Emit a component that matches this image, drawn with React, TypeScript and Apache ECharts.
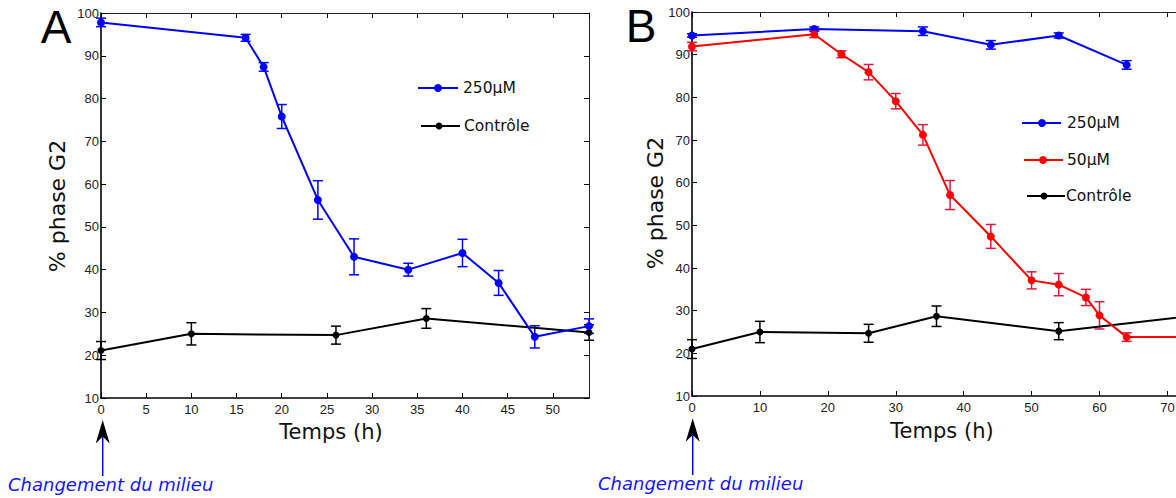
import React, { useEffect, useRef } from "react";
import * as echarts from "echarts";

// ---------- Panel A data ----------
const timeA250 = [0, 16, 18, 20, 24, 28, 34, 40, 44, 48, 54];
const valA250 = [97.8, 94.2, 87.4, 75.8, 56.3, 43.0, 40.0, 43.9, 36.9, 24.3, 26.8];
const errA250 = [1.0, 0.8, 1.0, 2.8, 4.5, 4.2, 1.5, 3.2, 2.9, 2.6, 1.7];

const timeACtrl = [0, 10, 26, 36, 54];
const valACtrl = [21.1, 25.0, 24.7, 28.6, 25.3];
const errACtrl = [2.1, 2.6, 2.1, 2.3, 1.8];

// ---------- Panel B data ----------
const timeB250 = [0, 18, 34, 44, 54, 64];
const valB250 = [94.5, 96.0, 95.5, 92.3, 94.5, 87.6];
const errB250 = [0.4, 0.5, 1.0, 1.0, 0.6, 1.0];

const timeB50 = [0, 18, 22, 26, 30, 34, 38, 44, 50, 54, 58, 60, 64, 72];
const valB50 = [91.9, 94.8, 90.1, 85.9, 79.1, 71.2, 57.1, 47.4, 37.1, 36.1, 33.1, 28.9, 23.8, 23.8];
const errB50 = [1.0, 0.8, 0.8, 1.8, 1.8, 2.4, 3.4, 2.8, 2.0, 2.6, 1.9, 3.2, 1.0, 0.5];

const timeBCtrl = [0, 10, 26, 36, 54, 72];
const valBCtrl = [21.0, 25.0, 24.7, 28.7, 25.2, 28.5];
const errBCtrl = [2.2, 2.5, 2.1, 2.4, 2.0, 2.0];

// ---------- Axis settings ----------
const xMaxA = 54;
const xIntervalA = 5;
const xMaxB = 72;
const xIntervalB = 10;
const yMin = 10;
const yMax = 100;
const yInterval = 10;

const BLUE = "#0000ff";
const RED = "#ff0000";
const RED_ERR = "#e0183c";
const BLACK = "#000000";

const TICK_FONT = "Liberation Sans, Arial, sans-serif";
const LABEL_FONT = "DejaVu Sans, sans-serif";

function pairs(t: number[], v: number[]) {
  return t.map((x, i) => [x, v[i]]);
}

function lineSeries(name: string, xi: number, yi: number, t: number[], v: number[], color: string, size: number) {
  return {
    type: "line",
    name,
    xAxisIndex: xi,
    yAxisIndex: yi,
    data: pairs(t, v),
    symbol: "circle",
    symbolSize: size,
    showAllSymbol: true,
    lineStyle: { color, width: 2 },
    itemStyle: { color },
    z: 4,
    silent: true,
  };
}

function errSeries(name: string, xi: number, yi: number, t: number[], v: number[], e: number[], color: string) {
  return {
    type: "custom",
    name,
    xAxisIndex: xi,
    yAxisIndex: yi,
    data: t.map((x, i) => [x, v[i], e[i]]),
    renderItem: (_params: any, api: any) => {
      const x = api.value(0);
      const y = api.value(1);
      const er = api.value(2);
      const top = api.coord([x, y + er]);
      const bot = api.coord([x, y - er]);
      const w = 5;
      const st = { stroke: color, lineWidth: 1.5 };
      return {
        type: "group",
        children: [
          { type: "line", shape: { x1: top[0], y1: top[1], x2: bot[0], y2: bot[1] }, style: st },
          { type: "line", shape: { x1: top[0] - w, y1: top[1], x2: top[0] + w, y2: top[1] }, style: st },
          { type: "line", shape: { x1: bot[0] - w, y1: bot[1], x2: bot[0] + w, y2: bot[1] }, style: st },
        ],
      };
    },
    z: 3,
    silent: true,
    clip: false,
  };
}

function xAxis(gridIndex: number, max: number, interval: number, position: string, main: boolean) {
  return {
    type: "value",
    gridIndex,
    min: 0,
    max,
    interval,
    position,
    axisLine: { show: true, onZero: false, lineStyle: { color: main ? "#000" : "#222", width: main ? 1.6 : 1 } },
    axisTick: { show: true, inside: true, length: 5, lineStyle: { color: "#000", width: 1 } },
    axisLabel: {
      show: main,
      showMaxLabel: false,
      color: "#222",
      fontFamily: TICK_FONT,
      fontSize: 13,
      margin: 5,
      formatter: (v: number) => (v % interval === 0 ? String(v) : ""),
    },
    splitLine: { show: false },
  };
}

function yAxis(gridIndex: number, position: string, main: boolean) {
  return {
    type: "value",
    gridIndex,
    min: yMin,
    max: yMax,
    interval: yInterval,
    position,
    axisLine: { show: true, onZero: false, lineStyle: { color: main ? "#000" : "#222", width: main ? 1.6 : 1 } },
    axisTick: { show: true, inside: true, length: 5, lineStyle: { color: "#000", width: 1 } },
    axisLabel: {
      show: main,
      color: "#222",
      fontFamily: TICK_FONT,
      fontSize: 13,
      margin: 2,
    },
    splitLine: { show: false },
  };
}

function legendItem(x1: number, x2: number, cx: number, y: number, color: string, text: string, tx: number, r: number) {
  return [
    { type: "line", shape: { x1, y1: y, x2, y2: y }, style: { stroke: color, lineWidth: 2 }, z: 10 },
    { type: "circle", shape: { cx, cy: y, r }, style: { fill: color }, z: 10 },
    {
      type: "text",
      x: tx,
      y,
      style: { text, fill: "#111", font: `15.5px ${LABEL_FONT}`, textAlign: "left", textVerticalAlign: "middle" },
      z: 10,
    },
  ];
}

function arrow(x: number, tip: number, base: number, notch: number, bottom: number) {
  return [
    { type: "line", shape: { x1: x, y1: notch, x2: x, y2: bottom }, style: { stroke: BLUE, lineWidth: 1.5 }, z: 10 },
    {
      type: "polygon",
      shape: { points: [[x, tip], [x + 7, base], [x, notch], [x - 7, base]] },
      style: { fill: "#000" },
      z: 11,
    },
  ];
}

export default function App() {
  const ref = useRef<HTMLDivElement>(null);

  useEffect(() => {
    if (!ref.current) return;
    const chart = echarts.init(ref.current, undefined, { renderer: "svg" });

    const option: any = {
      animation: false,
      backgroundColor: "#ffffff",
      grid: [
        { left: 101, top: 13, width: 488, height: 385, containLabel: false },
        { left: 692, top: 12, width: 489, height: 384, containLabel: false },
      ],
      xAxis: [
        xAxis(0, xMaxA, xIntervalA, "bottom", true),
        xAxis(0, xMaxA, xIntervalA, "top", false),
        xAxis(1, xMaxB, xIntervalB, "bottom", true),
        xAxis(1, xMaxB, xIntervalB, "top", false),
      ],
      yAxis: [
        yAxis(0, "left", true),
        yAxis(0, "right", false),
        yAxis(1, "left", true),
        yAxis(1, "right", false),
      ],
      series: [
        errSeries("errA250", 0, 0, timeA250, valA250, errA250, BLUE),
        errSeries("errACtrl", 0, 0, timeACtrl, valACtrl, errACtrl, BLACK),
        lineSeries("Contrôle A", 0, 0, timeACtrl, valACtrl, BLACK, 7),
        lineSeries("250µM A", 0, 0, timeA250, valA250, BLUE, 8),
        errSeries("errBCtrl", 2, 2, timeBCtrl, valBCtrl, errBCtrl, BLACK),
        errSeries("errB250", 2, 2, timeB250, valB250, errB250, BLUE),
        errSeries("errB50", 2, 2, timeB50, valB50, errB50, RED_ERR),
        lineSeries("Contrôle B", 2, 2, timeBCtrl, valBCtrl, BLACK, 7),
        lineSeries("250µM B", 2, 2, timeB250, valB250, BLUE, 8),
        lineSeries("50µM B", 2, 2, timeB50, valB50, RED, 8),
      ],
      graphic: [
        // panel letters
        { type: "text", x: 56, y: 27, style: { text: "A", fill: "#000", font: `46px ${TICK_FONT}`, textAlign: "center", textVerticalAlign: "middle" } },
        { type: "text", x: 641, y: 26, style: { text: "B", fill: "#000", font: `46px ${TICK_FONT}`, textAlign: "center", textVerticalAlign: "middle" } },
        // axis titles
        { type: "text", x: 331, y: 432, style: { text: "Temps (h)", fill: "#111", font: `21px ${LABEL_FONT}`, textAlign: "center", textVerticalAlign: "middle" } },
        { type: "text", x: 942, y: 431, style: { text: "Temps (h)", fill: "#111", font: `21px ${LABEL_FONT}`, textAlign: "center", textVerticalAlign: "middle" } },
        { type: "text", x: 57, y: 206, rotation: Math.PI / 2, style: { text: "% phase G2", fill: "#111", font: `22px ${LABEL_FONT}`, textAlign: "center", textVerticalAlign: "middle" } },
        { type: "text", x: 655, y: 203, rotation: Math.PI / 2, style: { text: "% phase G2", fill: "#111", font: `22px ${LABEL_FONT}`, textAlign: "center", textVerticalAlign: "middle" } },
        // legends
        ...legendItem(418, 458, 438, 88, BLUE, "250µM", 463, 4),
        ...legendItem(421, 460, 439, 126, BLACK, "Contrôle", 464, 3.5),
        ...legendItem(1022, 1061, 1042, 123, BLUE, "250µM", 1067, 4),
        ...legendItem(1024, 1063, 1043, 160, RED, "50µM", 1067, 4),
        ...legendItem(1027, 1065, 1044, 196, BLACK, "Contrôle", 1066, 3.5),
        // arrows and annotations
        ...arrow(102.7, 420, 443.5, 436.5, 476),
        ...arrow(692.7, 418.3, 441.7, 435, 475),
        { type: "text", x: 8, y: 484, style: { text: "Changement du milieu", fill: "#1414ff", font: `italic 18px ${LABEL_FONT}`, textAlign: "left", textVerticalAlign: "middle" }, z: 10 },
        { type: "text", x: 598, y: 483, style: { text: "Changement du milieu", fill: "#1414ff", font: `italic 18px ${LABEL_FONT}`, textAlign: "left", textVerticalAlign: "middle" }, z: 10 },
      ],
    };

    chart.setOption(option);
    return () => {
      chart.dispose();
    };
  }, []);

  return (
    <div
      style={{
        position: "fixed",
        left: 0,
        top: 0,
        width: 1176,
        height: 498,
        overflow: "hidden",
        background: "#ffffff",
      }}
    >
      <div ref={ref} style={{ width: 1192, height: 498 }} />
    </div>
  );
}
